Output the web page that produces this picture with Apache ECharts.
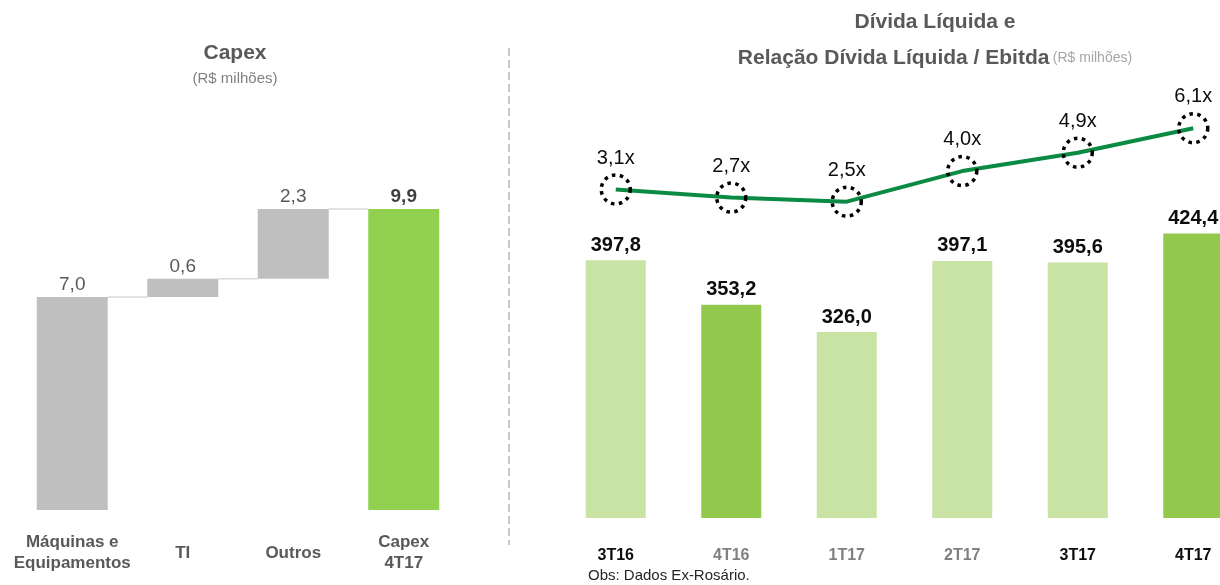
<!DOCTYPE html>
<html>
<head>
<meta charset="utf-8">
<script src="https://cdn.jsdelivr.net/npm/echarts@6/dist/echarts.min.js"></script>
<style>
  html, body { margin: 0; padding: 0; background: #fff; }
  #chart { width: 1220px; height: 585px; }
</style>
</head>
<body>
<div id="chart"></div>
<script>
// Capex (R$ milhões)
var capexCategorias = ['Máquinas e\nEquipamentos', 'TI', 'Outros', 'Capex\n4T17'];
var capexValores = [7.0, 0.6, 2.3, 9.9];

// Dívida líquida (R$ milhões) e relação dívida líquida / ebitda
var trimestres = ['3T16', '4T16', '1T17', '2T17', '3T17', '4T17'];
var dividaLiquida = [397.8, 353.2, 326.0, 397.1, 395.6, 424.4];
var relacaoEbitda = [3.1, 2.7, 2.5, 4.0, 4.9, 6.1];

var arial = "'Liberation Sans', Arial, sans-serif";

// base invisivel do waterfall (ultima barra e o total)
var capexBase = [];
var acumulado = [];
var soma = 0;
capexValores.forEach(function (v, i) {
    if (i === capexValores.length - 1) {
        capexBase.push(0);
    } else {
        capexBase.push(soma);
        soma += v;
        acumulado.push([i, soma]);
    }
});

var destaque = ['4T16', '4T17'];
var labelCinza = ['4T16', '1T17', '2T17'];

function virgula(v) { return v.toFixed(1).replace('.', ','); }

var chart = echarts.init(document.getElementById('chart'));
chart.setOption({
    animation: false,
    textStyle: { fontFamily: arial },
    graphic: [
        { type: 'text', style: { text: 'Capex', x: 235, y: 53, align: 'center', verticalAlign: 'middle', font: 'bold 21px ' + arial, fill: '#595959' } },
        { type: 'text', style: { text: '(R$ milhões)', x: 235, y: 79, align: 'center', verticalAlign: 'middle', font: '15px ' + arial, fill: '#808080' } },
        { type: 'text', style: { text: 'Dívida Líquida e', x: 935, y: 22, align: 'center', verticalAlign: 'middle', font: 'bold 21px ' + arial, fill: '#595959' } },
        {
            type: 'text',
            style: {
                text: '{t|Relação Dívida Líquida / Ebitda} {s|(R$ milhões)}',
                x: 935, y: 58, align: 'center', verticalAlign: 'middle',
                rich: {
                    t: { fontFamily: arial, fontWeight: 'bold', fontSize: 21, fill: '#595959' },
                    s: { fontFamily: arial, fontSize: 14, fill: '#A6A6A6' }
                }
            }
        },
        { type: 'text', style: { text: 'Obs: Dados Ex-Rosário.', x: 588, y: 576, verticalAlign: 'middle', font: '15px ' + arial, fill: '#262626' } },
        { type: 'line', shape: { x1: 509, y1: 48, x2: 509, y2: 545 }, style: { stroke: '#C8C8C8', lineWidth: 2, lineDash: [8, 4] } }
    ],
    grid: [
        { left: 17, width: 442, top: 145, height: 365, outerBoundsMode: 'none' },
        { left: 558, width: 693, top: 118, height: 400, outerBoundsMode: 'none' }
    ],
    xAxis: [
        {
            gridIndex: 0, type: 'category', data: capexCategorias,
            axisLine: { show: false }, axisTick: { show: false },
            axisLabel: { interval: 0, margin: 43, verticalAlign: 'middle', fontWeight: 'bold', fontSize: 17, lineHeight: 21, color: '#595959' }
        },
        {
            gridIndex: 1, type: 'category',
            data: trimestres.map(function (t) {
                return { value: t, textStyle: { color: labelCinza.indexOf(t) >= 0 ? '#808080' : '#0D0D0D' } };
            }),
            axisLine: { show: false }, axisTick: { show: false },
            axisLabel: { interval: 0, margin: 30, verticalAlign: 'middle', fontWeight: 'bold', fontSize: 16 }
        }
    ],
    yAxis: [
        { gridIndex: 0, type: 'value', min: 0, max: 12, show: false },
        { gridIndex: 1, type: 'value', min: 140, max: 540, show: false },
        { gridIndex: 1, type: 'value', min: -13, max: 6.6, show: false }
    ],
    series: [
        {
            type: 'bar', xAxisIndex: 0, yAxisIndex: 0, stack: 'capex',
            data: capexBase, barWidth: 71,
            itemStyle: { color: 'transparent' }, silent: true
        },
        {
            type: 'bar', xAxisIndex: 0, yAxisIndex: 0, stack: 'capex',
            data: capexValores, barWidth: 71,
            itemStyle: {
                color: function (p) { return p.dataIndex === capexValores.length - 1 ? '#92D050' : '#BFBFBF'; }
            },
            label: {
                show: true, position: 'top', distance: 3,
                fontSize: 19, color: '#595959',
                formatter: function (p) {
                    return p.dataIndex === capexValores.length - 1 ? '{tot|' + virgula(p.value) + '}' : virgula(p.value);
                },
                rich: { tot: { fontWeight: 'bold', fontSize: 19, color: '#404040' } }
            }
        },
        {
            type: 'custom', xAxisIndex: 0, yAxisIndex: 0,
            data: acumulado, silent: true, z: 1,
            renderItem: function (params, api) {
                var a = api.coord([api.value(0), api.value(1)]);
                var b = api.coord([api.value(0) + 1, api.value(1)]);
                return {
                    type: 'line',
                    shape: { x1: a[0] + 35.5, y1: a[1], x2: b[0] - 35.5, y2: b[1] },
                    style: { stroke: '#D9D9D9', lineWidth: 1.5 }
                };
            }
        },
        {
            type: 'bar', xAxisIndex: 1, yAxisIndex: 1,
            data: dividaLiquida, barWidth: 60,
            itemStyle: {
                color: function (p) { return destaque.indexOf(trimestres[p.dataIndex]) >= 0 ? '#92C84C' : '#C8E3A4'; }
            },
            label: {
                show: true, position: 'top', distance: 5,
                fontWeight: 'bold', fontSize: 20, color: '#0D0D0D',
                formatter: function (p) { return virgula(p.value); }
            }
        },
        {
            type: 'line', xAxisIndex: 1, yAxisIndex: 2,
            data: relacaoEbitda,
            lineStyle: { color: '#0B8A43', width: 4 },
            symbol: 'circle', symbolSize: 29,
            itemStyle: { color: 'rgba(0,0,0,0)', borderColor: '#000', borderWidth: 3.5, borderType: [3.5, 4.5] },
            label: {
                show: true, position: 'top', distance: 5,
                fontSize: 20, color: '#0D0D0D',
                formatter: function (p) { return virgula(p.value) + 'x'; }
            },
            z: 5
        }
    ]
});
</script>
</body>
</html>
